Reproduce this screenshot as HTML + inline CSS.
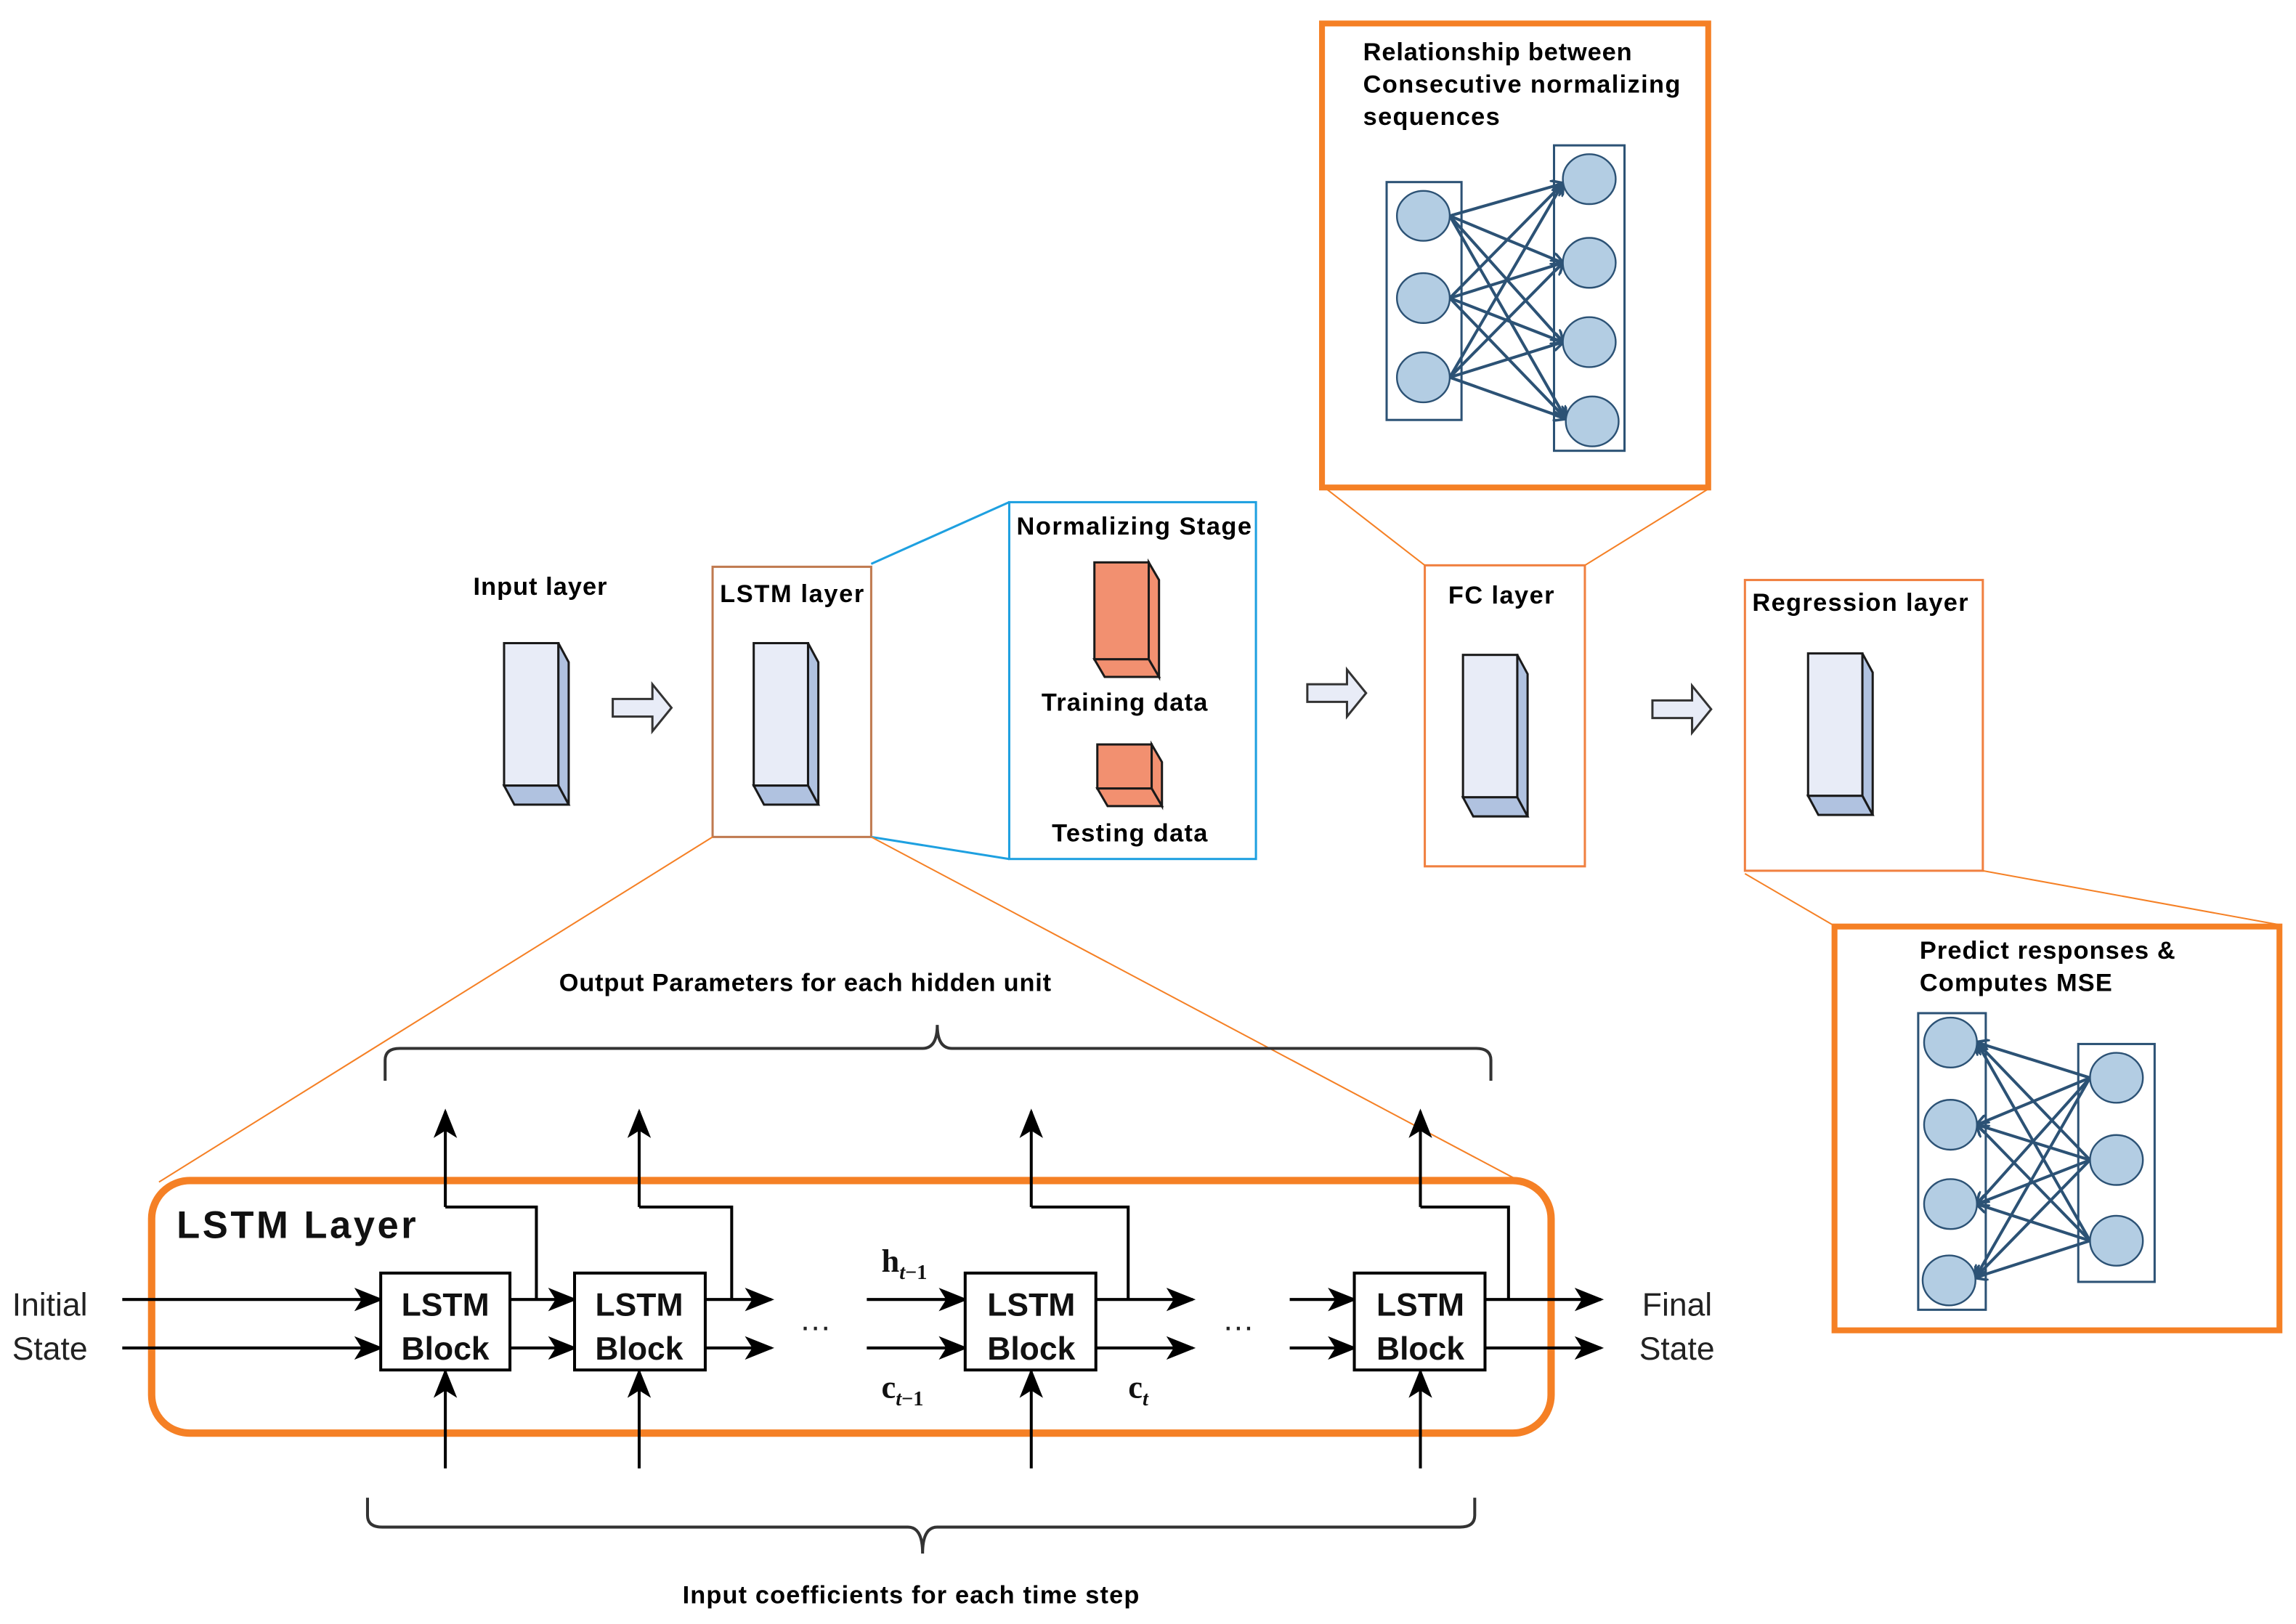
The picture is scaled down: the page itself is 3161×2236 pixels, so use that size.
<!DOCTYPE html>
<html><head><meta charset="utf-8"><style>
html,body{margin:0;padding:0;background:#fff;}
svg{display:block;}
text{font-family:"Liberation Sans Narrow","Liberation Sans",sans-serif;}
</style></head><body>
<svg width="3161" height="2236" viewBox="0 0 1563 1106" xmlns="http://www.w3.org/2000/svg">
<defs>
<marker id="ah" viewBox="0 0 20 16" refX="18" refY="8" markerWidth="20" markerHeight="16" markerUnits="userSpaceOnUse" orient="auto">
<path d="M0,0 L20,8 L0,16 L5,8 Z" fill="#000"/></marker>
<marker id="nh" viewBox="0 0 10 10" refX="9" refY="5" markerWidth="9" markerHeight="9" markerUnits="userSpaceOnUse" orient="auto">
<path d="M0,0 L10,5 L0,10" fill="none" stroke="#2c5275" stroke-width="2"/></marker>
</defs>
<rect width="1563" height="1106" fill="#fff"/>

<!-- bars -->
<g stroke="#1a1a1a" stroke-width="1.5">
<g id="bar">
<rect x="343" y="438" width="37" height="97" fill="#e8ecf7"/>
<path d="M380,438 L387,451 L387,548 L380,535 Z" fill="#b0c2e0"/>
<path d="M343,535 L380,535 L387,548 L350,548 Z" fill="#b0c2e0"/>
</g>
<use href="#bar" x="170" y="0"/>
<use href="#bar" x="653" y="8"/>
<use href="#bar" x="888" y="7"/>
<rect x="745" y="383" width="37" height="66" fill="#f29070"/>
<path d="M782,383 L789,395 L789,461 L782,449 Z" fill="#f29070"/>
<path d="M745,449 L782,449 L789,461 L752,461 Z" fill="#f29070"/>
<rect x="747" y="507" width="37" height="30" fill="#f29070"/>
<path d="M784,507 L791,519 L791,549 L784,537 Z" fill="#f29070"/>
<path d="M747,537 L784,537 L791,549 L754,549 Z" fill="#f29070"/>
</g>

<!-- hollow arrows -->
<g fill="#e8ecf7" stroke="#333" stroke-width="1.5">
<path d="M417,476 L444,476 L444,466 L457,482 L444,498 L444,488 L417,488 Z"/>
<path d="M890,466 L917,466 L917,456 L930,472 L917,488 L917,478 L890,478 Z"/>
<path d="M1125,477 L1152,477 L1152,467 L1165,483 L1152,499 L1152,489 L1125,489 Z"/>
</g>

<!-- thin boxes -->
<rect x="485" y="386" width="108" height="184" fill="none" stroke="#c07a50" stroke-width="1.5"/>
<rect x="687" y="342" width="168" height="243" fill="none" stroke="#1ea0e0" stroke-width="1.5"/>
<line x1="593" y1="384" x2="687" y2="342" stroke="#1ea0e0" stroke-width="1.5"/>
<line x1="593" y1="570" x2="687" y2="585" stroke="#1ea0e0" stroke-width="1.5"/>
<rect x="970" y="385" width="109" height="205" fill="none" stroke="#f08040" stroke-width="1.5"/>
<rect x="1188" y="395" width="162" height="198" fill="none" stroke="#f08040" stroke-width="1.5"/>
<g stroke="#f58025" stroke-width="1">
<line x1="970" y1="385" x2="903" y2="333"/>
<line x1="1079" y1="385" x2="1163" y2="333"/>
<line x1="1188" y1="595" x2="1248" y2="630"/>
<line x1="1350" y1="593" x2="1553" y2="630"/>
<line x1="485" y1="570" x2="108" y2="805"/>
<line x1="593" y1="570" x2="1032" y2="803"/>
</g>

<!-- labels -->
<g font-weight="bold" font-size="17" fill="#000">
<text x="322" y="405" textLength="91">Input layer</text>
<text x="490" y="410" textLength="98">LSTM layer</text>
<text x="692" y="364" textLength="160">Normalizing Stage</text>
<text x="709" y="484" textLength="113">Training data</text>
<text x="716" y="573" textLength="106">Testing data</text>
<text x="986" y="411" textLength="72">FC layer</text>
<text x="1193" y="416" textLength="147">Regression layer</text>
</g>

<!-- top NN box -->
<rect x="900" y="16" width="263" height="316" fill="none" stroke="#f58025" stroke-width="4"/>
<g font-weight="bold" font-size="17" fill="#000" font-family="Liberation Sans, sans-serif">
<text x="928" y="41" textLength="183" style="font-family:'Liberation Sans',sans-serif">Relationship between</text>
<text x="928" y="63" textLength="216" style="font-family:'Liberation Sans',sans-serif">Consecutive normalizing</text>
<text x="928" y="85" textLength="93" style="font-family:'Liberation Sans',sans-serif">sequences</text>
</g>
<g fill="none" stroke="#2c5275" stroke-width="1.5">
<rect x="944" y="124" width="51" height="162"/>
<rect x="1058" y="99" width="48" height="208"/>
</g>
<g stroke="#2c5275" stroke-width="2" marker-end="url(#nh)">
<line x1="987" y1="147" x2="1064" y2="125"/><line x1="987" y1="147" x2="1064" y2="179"/><line x1="987" y1="147" x2="1064" y2="233"/><line x1="987" y1="147" x2="1066" y2="285"/>
<line x1="987" y1="203" x2="1064" y2="125"/><line x1="987" y1="203" x2="1064" y2="179"/><line x1="987" y1="203" x2="1064" y2="233"/><line x1="987" y1="203" x2="1066" y2="285"/>
<line x1="987" y1="257" x2="1064" y2="125"/><line x1="987" y1="257" x2="1064" y2="179"/><line x1="987" y1="257" x2="1064" y2="233"/><line x1="987" y1="257" x2="1066" y2="285"/>
</g>
<g fill="#b3cde3" stroke="#2c5275" stroke-width="1.2">
<ellipse cx="969" cy="147" rx="18" ry="17"/><ellipse cx="969" cy="203" rx="18" ry="17"/><ellipse cx="969" cy="257" rx="18" ry="17"/>
<ellipse cx="1082" cy="122" rx="18" ry="17"/><ellipse cx="1082" cy="179" rx="18" ry="17"/><ellipse cx="1082" cy="233" rx="18" ry="17"/><ellipse cx="1084" cy="287" rx="18" ry="17"/>
</g>

<!-- bottom-right NN box -->
<rect x="1249" y="631" width="303" height="275" fill="none" stroke="#f58025" stroke-width="4"/>
<text x="1307" y="653" font-weight="bold" font-size="17" textLength="174" style="font-family:'Liberation Sans',sans-serif">Predict responses &amp;</text>
<text x="1307" y="675" font-weight="bold" font-size="17" textLength="131" style="font-family:'Liberation Sans',sans-serif">Computes MSE</text>
<g fill="none" stroke="#2c5275" stroke-width="1.5">
<rect x="1306" y="690" width="46" height="202"/>
<rect x="1415" y="711" width="52" height="162"/>
</g>
<g stroke="#2c5275" stroke-width="2" marker-end="url(#nh)">
<line x1="1423" y1="734" x2="1346" y2="710"/><line x1="1423" y1="734" x2="1346" y2="766"/><line x1="1423" y1="734" x2="1346" y2="820"/><line x1="1423" y1="734" x2="1345" y2="870"/>
<line x1="1423" y1="790" x2="1346" y2="710"/><line x1="1423" y1="790" x2="1346" y2="766"/><line x1="1423" y1="790" x2="1346" y2="820"/><line x1="1423" y1="790" x2="1345" y2="870"/>
<line x1="1423" y1="845" x2="1346" y2="710"/><line x1="1423" y1="845" x2="1346" y2="766"/><line x1="1423" y1="845" x2="1346" y2="820"/><line x1="1423" y1="845" x2="1345" y2="870"/>
</g>
<g fill="#b3cde3" stroke="#2c5275" stroke-width="1.2">
<ellipse cx="1328" cy="710" rx="18" ry="17"/><ellipse cx="1328" cy="766" rx="18" ry="17"/><ellipse cx="1328" cy="820" rx="18" ry="17"/><ellipse cx="1327" cy="872" rx="18" ry="17"/>
<ellipse cx="1441" cy="734" rx="18" ry="17"/><ellipse cx="1441" cy="790" rx="18" ry="17"/><ellipse cx="1441" cy="845" rx="18" ry="17"/>
</g>

<!-- LSTM unrolled -->
<text x="548" y="675" text-anchor="middle" font-weight="bold" font-size="17" textLength="335">Output Parameters for each hidden unit</text>
<path d="M262,736 L262,722 Q262,714 272,714 L628,714 Q638,714 638,698 Q638,714 648,714 L1005,714 Q1015,714 1015,722 L1015,736" fill="none" stroke="#333" stroke-width="2"/>
<path d="M250,1020 L250,1032 Q250,1040 260,1040 L618,1040 Q628,1040 628,1058 Q628,1040 638,1040 L994,1040 Q1004,1040 1004,1032 L1004,1020" fill="none" stroke="#333" stroke-width="2"/>
<text x="620" y="1092" text-anchor="middle" font-weight="bold" font-size="17" textLength="311">Input coefficients for each time step</text>

<rect x="103" y="804" width="953" height="172" rx="26" fill="none" stroke="#f58025" stroke-width="5"/>
<text x="120" y="843" font-weight="bold" font-size="26" textLength="163" fill="#111">LSTM Layer</text>

<g stroke="#000" stroke-width="2" fill="none" marker-end="url(#ah)">
<line x1="83" y1="885" x2="259" y2="885"/><line x1="83" y1="918" x2="259" y2="918"/>
<line x1="347" y1="885" x2="391" y2="885"/><line x1="347" y1="918" x2="391" y2="918"/>
<line x1="480" y1="885" x2="525" y2="885"/><line x1="480" y1="918" x2="525" y2="918"/>
<line x1="590" y1="885" x2="657" y2="885"/><line x1="590" y1="918" x2="657" y2="918"/>
<line x1="746" y1="885" x2="812" y2="885"/><line x1="746" y1="918" x2="812" y2="918"/>
<line x1="878" y1="885" x2="922" y2="885"/><line x1="878" y1="918" x2="922" y2="918"/>
<line x1="1011" y1="885" x2="1090" y2="885"/><line x1="1011" y1="918" x2="1090" y2="918"/>
<line x1="303" y1="1000" x2="303" y2="934"/><line x1="435" y1="1000" x2="435" y2="934"/>
<line x1="702" y1="1000" x2="702" y2="934"/><line x1="967" y1="1000" x2="967" y2="934"/>
<line x1="303" y1="822" x2="303" y2="757"/><line x1="435" y1="822" x2="435" y2="757"/>
<line x1="702" y1="822" x2="702" y2="757"/><line x1="967" y1="822" x2="967" y2="757"/>
</g>
<g stroke="#000" stroke-width="2" fill="none">
<polyline points="303,822 365,822 365,885"/>
<polyline points="435,822 498,822 498,885"/>
<polyline points="702,822 768,822 768,885"/>
<polyline points="967,822 1027,822 1027,885"/>
</g>
<g fill="#fff" stroke="#000" stroke-width="2">
<rect x="259" y="867" width="88" height="66"/><rect x="391" y="867" width="89" height="66"/>
<rect x="657" y="867" width="89" height="66"/><rect x="922" y="867" width="89" height="66"/>
</g>
<g font-weight="bold" font-size="22" text-anchor="middle" fill="#111">
<text x="303" y="896">LSTM</text><text x="303" y="926">Block</text>
<text x="435" y="896">LSTM</text><text x="435" y="926">Block</text>
<text x="702" y="896">LSTM</text><text x="702" y="926">Block</text>
<text x="967" y="896">LSTM</text><text x="967" y="926">Block</text>
</g>
<g font-size="22" fill="#222">
<text x="8" y="896">Initial</text><text x="8" y="926">State</text>
<text x="1118" y="896">Final</text><text x="1116" y="926">State</text>
<text x="544" y="906">…</text><text x="832" y="906">…</text>
</g>
<g font-family="Liberation Serif, serif" font-weight="bold" fill="#111">
<text x="600" y="866" font-size="22" style="font-family:'Liberation Serif',serif">h<tspan font-size="14" dy="5" font-style="italic">t</tspan><tspan font-size="14">−1</tspan></text>
<text x="600" y="952" font-size="22" style="font-family:'Liberation Serif',serif">c<tspan font-size="14" dy="5" font-style="italic">t</tspan><tspan font-size="14">−1</tspan></text>
<text x="768" y="952" font-size="22" style="font-family:'Liberation Serif',serif">c<tspan font-size="14" dy="5" font-style="italic">t</tspan></text>
</g>
</svg>
</body></html>
